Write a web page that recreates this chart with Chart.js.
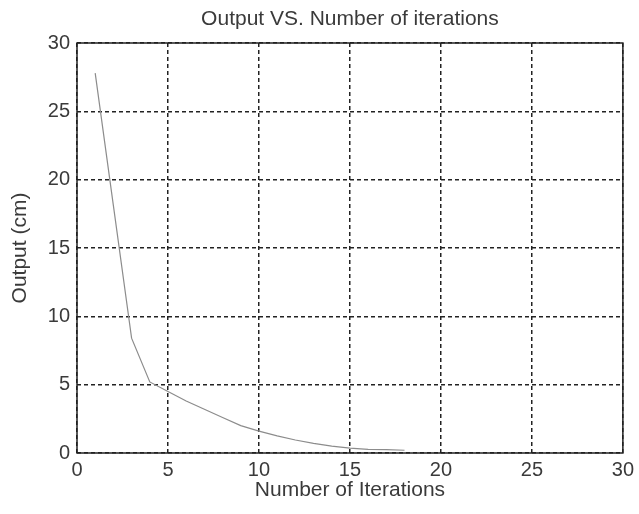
<!DOCTYPE html>
<html>
<head>
<meta charset="utf-8">
<script src="https://cdn.jsdelivr.net/npm/chart.js@4/dist/chart.umd.min.js"></script>
<style>
  html, body { margin: 0; padding: 0; background: #fff; }
  canvas { display: block; }
</style>
</head>
<body>
<canvas id="myChart" width="639" height="514"></canvas>
<script>
// iteration number and output value
const iteraciones = [1, 2, 3, 4, 5, 6, 7, 8, 9, 10, 11, 12, 13, 14, 15, 16, 17, 18];
const salida = [27.8, 18.1, 8.4, 5.2, 4.5, 3.8, 3.2, 2.6, 2.0, 1.6, 1.25, 0.95, 0.7, 0.5, 0.35, 0.27, 0.24, 0.2];

const xMin = 0, xMax = 30, xStep = 5;
const yMin = 0, yMax = 30, yStep = 5;

const fuente = "'Liberation Sans', Arial, sans-serif";
const colorTexto = '#3a3a3a';

// box around the plot area (top and right too, like matlab)
const marco = {
    id: 'marco',
    afterDatasetsDraw(chart) {
        const { ctx, chartArea } = chart;
        ctx.save();
        ctx.strokeStyle = '#222';
        ctx.lineWidth = 1.5;
        ctx.setLineDash([]);
        ctx.strokeRect(chartArea.left, chartArea.top, chartArea.right - chartArea.left, chartArea.bottom - chartArea.top);
        ctx.restore();
    }
};

const ctx = document.getElementById('myChart').getContext('2d');
const myChart = new Chart(ctx, {
    type: 'line',
    data: {
        datasets: [{
            label: 'Output',
            data: iteraciones.map((it, i) => ({ x: it, y: salida[i] })),
            borderColor: '#8c8c8c',
            borderWidth: 1.2,
            pointRadius: 0,
            tension: 0,
            fill: false
        }]
    },
    options: {
        responsive: false,
        animation: false,
        layout: { padding: { left: 0, right: 16, top: 0, bottom: 0 } },
        plugins: {
            legend: { display: false },
            tooltip: { enabled: false },
            title: {
                display: true,
                fullSize: false,
                text: 'Output VS. Number of iterations',
                color: colorTexto,
                font: { family: fuente, size: 21, weight: 'normal' },
                padding: { top: 7, bottom: 10.8 }
            }
        },
        scales: {
            x: {
                type: 'linear',
                min: xMin,
                max: xMax,
                afterFit(scale) { scale.height = 61; },
                ticks: {
                    stepSize: xStep,
                    color: colorTexto,
                    padding: 5,
                    maxRotation: 0,
                    font: { family: fuente, size: 20 }
                },
                grid: { color: '#222', lineWidth: 1.5, drawTicks: false },
                border: { display: false, dash: [4, 3] },
                title: {
                    display: true,
                    text: 'Number of Iterations',
                    color: colorTexto,
                    font: { family: fuente, size: 21 },
                    padding: { top: 0, bottom: 11.4 }
                }
            },
            y: {
                min: yMin,
                max: yMax,
                afterFit(scale) { scale.width = 77; },
                ticks: {
                    stepSize: yStep,
                    color: colorTexto,
                    padding: 7,
                    font: { family: fuente, size: 20 }
                },
                grid: { color: '#222', lineWidth: 1.5, drawTicks: false },
                border: { display: false, dash: [4, 3] },
                title: {
                    display: true,
                    text: 'Output (cm)',
                    color: colorTexto,
                    font: { family: fuente, size: 21 },
                    padding: { top: 7.4, bottom: 0 }
                }
            }
        }
    },
    plugins: [marco]
});
</script>
</body>
</html>
